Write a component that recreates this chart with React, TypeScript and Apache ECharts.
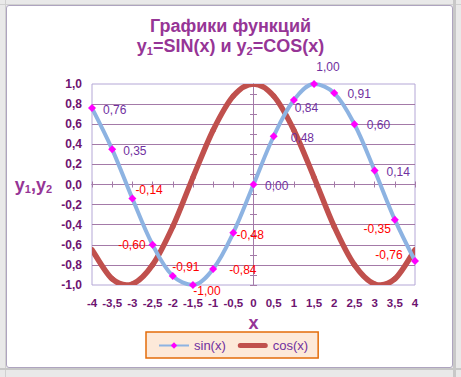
import React, { useEffect, useRef } from "react";
import * as echarts from "echarts";

// ---- data ----
const xValues = [-4, -3.5, -3, -2.5, -2, -1.5, -1, -0.5, 0, 0.5, 1, 1.5, 2, 2.5, 3, 3.5, 4];
const sinValues = [0.76, 0.35, -0.14, -0.6, -0.91, -1.0, -0.84, -0.48, 0.0, 0.48, 0.84, 1.0, 0.91, 0.6, 0.14, -0.35, -0.76];
const cosValues = [-0.65, -0.94, -0.99, -0.8, -0.42, 0.07, 0.54, 0.88, 1.0, 0.88, 0.54, 0.07, -0.42, -0.8, -0.99, -0.94, -0.65];
const seriesNames = ["sin(x)", "cos(x)"];
const titleLine1 = "Графики функций";

// ---- label placement (layout only) ----
const labelSide = ["r", "r", "r", "l", "r", "r", "r", "r", "r", "r", "r", "r", "r", "r", "r", "l", "l"];
const labelDx = [11, 11, 3, 7, -0.6, 0.3, 16, 3.3, 11.5, 17, 0.9, 2.3, 13.2, 12.4, 11.9, 3.9, 12.4];
const labelDy = [2, 2, -8.7, 0, -9.2, 6, 1, 2.4, 1.5, 1.4, 7.7, -17, 1.2, 0.6, 1.4, 9.5, -5.6];

const FONT = "'Liberation Sans', Arial, sans-serif";
const TITLE_COLOR = "#963596";
const TICK_COLOR = "#6e1470";
const GRID_LINE = "#a47aa8";
const BORDER = "#b4a7d6";
const SIN_COLOR = "#8db3e2";
const COS_COLOR = "#c0504d";
const SYM = 8;

const comma = (s: string) => s.replace(".", ",");

export default function App() {
  const ref = useRef<HTMLDivElement>(null);

  useEffect(() => {
    if (!ref.current) return;
    const chart = echarts.init(ref.current, undefined, { renderer: "svg" });

    const sinData = xValues.map((x, i) => {
      const v = sinValues[i];
      const right = labelSide[i] === "r";
      return {
        value: [x, v],
        label: {
          position: right ? "right" : "left",
          distance: 0,
          offset: [right ? labelDx[i] - SYM / 2 : -(labelDx[i] - SYM / 2), labelDy[i]],
          color: v < 0 ? "#ff0000" : "#7030a0",
        },
      };
    });
    const cosData = xValues.map((x, i) => [x, cosValues[i]]);
    const n = xValues.length;
    const idx = (k: number) => Math.max(0, Math.min(n - 1, k));

    // Excel-like (Catmull-Rom) smoothed segment between point i and i+1
    const renderCos = (params: any, api: any) => {
      const i = params.dataIndex;
      if (i >= n - 1) return null;
      const P = (k: number) => api.coord([xValues[idx(k)], cosValues[idx(k)]]);
      const p0 = P(i - 1);
      const p1 = P(i);
      const p2 = P(i + 1);
      const p3 = P(i + 2);
      const t = 1 / 6;
      return {
        type: "bezierCurve",
        shape: {
          x1: p1[0],
          y1: p1[1],
          cpx1: p1[0] + (p2[0] - p0[0]) * t,
          cpy1: p1[1] + (p2[1] - p0[1]) * t,
          cpx2: p2[0] - (p3[0] - p1[0]) * t,
          cpy2: p2[1] - (p3[1] - p1[1]) * t,
          x2: p2[0],
          y2: p2[1],
        },
        style: { stroke: COS_COLOR, lineWidth: 5.5, fill: null, lineCap: "round" },
      };
    };

    const sub = {
      fontSize: 11,
      fontWeight: "bold",
      fontFamily: FONT,
      color: TITLE_COLOR,
      lineHeight: 10,
      verticalAlign: "bottom",
    };

    const zeroAxisX = (inside: boolean) => ({
      type: "value",
      min: -4,
      max: 4,
      interval: 0.5,
      axisLine: { show: true, onZero: true, lineStyle: { color: GRID_LINE, width: 1 } },
      axisTick: { show: true, inside, length: 3, lineStyle: { color: GRID_LINE, width: 1 } },
      axisLabel: { show: false },
      splitLine: { show: false },
    });
    const zeroAxisY = (inside: boolean) => ({
      type: "value",
      min: -1,
      max: 1,
      interval: 0.1,
      axisLine: { show: true, onZero: true, lineStyle: { color: GRID_LINE, width: 1 } },
      axisTick: { show: true, inside, length: 3.5, lineStyle: { color: GRID_LINE, width: 1 } },
      axisLabel: { show: false },
      splitLine: { show: false },
    });

    chart.setOption({
      animation: false,
      backgroundColor: "transparent",
      title: {
        text: `{a|${titleLine1}}\n{a|y}{s|1}{a|=SIN(x) и y}{s|2}{a|=COS(x)}`,
        left: "center",
        top: 16,
        padding: [0, 7, 0, 0],
        textStyle: {
          rich: {
            a: { fontSize: 18, fontWeight: "bold", fontFamily: FONT, color: TITLE_COLOR, lineHeight: 20 },
            s: sub,
          },
        },
      },
      grid: {
        left: 92,
        right: 46,
        top: 84,
        bottom: 92,
        show: true,
        borderColor: BORDER,
        borderWidth: 1,
        backgroundColor: "transparent",
      },
      legend: {
        data: [
          { name: seriesNames[0] },
          {
            name: seriesNames[1],
            icon: "path://M2.75,0H30.25A2.75,2.75 0 0 1 30.25,5.5H2.75A2.75,2.75 0 0 1 2.75,0Z",
            itemStyle: { color: COS_COLOR },
          },
        ],
        left: 146,
        top: 332,
        orient: "horizontal",
        backgroundColor: "#fde9d9",
        borderColor: "#e46c0a",
        borderWidth: 1.5,
        borderRadius: 0,
        padding: [7, 10, 6, 12],
        itemWidth: 30,
        itemHeight: 8,
        itemGap: 12,
        textStyle: { color: "#7030a0", fontSize: 13, fontFamily: FONT },
      },
      xAxis: [
        {
          type: "value",
          min: -4,
          max: 4,
          interval: 0.5,
          name: "x",
          nameLocation: "middle",
          nameGap: 25,
          nameTextStyle: { fontSize: 18, fontWeight: "bold", color: TITLE_COLOR, fontFamily: FONT },
          axisLine: { show: false, onZero: false },
          axisTick: { show: false },
          splitLine: { show: false },
          axisLabel: {
            color: TICK_COLOR,
            fontWeight: "bold",
            fontSize: 11.5,
            fontFamily: FONT,
            margin: 12,
            formatter: (v: number) => comma(String(v)),
          },
        },
        zeroAxisX(false),
        zeroAxisX(true),
      ],
      yAxis: [
        {
          type: "value",
          min: -1,
          max: 1,
          interval: 0.2,
          name: "{a|y}{s|1}{a|,y}{s|2}",
          nameLocation: "middle",
          nameRotate: 0,
          nameGap: 40,
          nameTextStyle: {
            rich: {
              a: { fontSize: 18, fontWeight: "bold", fontFamily: FONT, color: TITLE_COLOR, lineHeight: 20 },
              s: sub,
            },
          },
          axisLine: { show: false, onZero: false },
          axisTick: { show: false },
          splitLine: {
            show: true,
            showMinLine: false,
            showMaxLine: false,
            lineStyle: { color: GRID_LINE, width: 1 },
          },
          axisLabel: {
            color: TICK_COLOR,
            fontWeight: "bold",
            fontSize: 12,
            fontFamily: FONT,
            margin: 10,
            formatter: (v: number) => comma(v.toFixed(1)),
          },
        },
        zeroAxisY(false),
        zeroAxisY(true),
      ],
      series: [
        {
          name: seriesNames[0],
          type: "line",
          xAxisIndex: 0,
          yAxisIndex: 0,
          data: sinData,
          smooth: 0.35,
          symbol: "diamond",
          symbolSize: SYM,
          itemStyle: { color: "#ff00ff" },
          lineStyle: { color: SIN_COLOR, width: 4 },
          label: {
            show: true,
            fontSize: 12,
            fontFamily: FONT,
            formatter: (p: any) => comma(Number(p.value[1]).toFixed(2)),
          },
          z: 3,
        },
        {
          name: seriesNames[1],
          type: "custom",
          xAxisIndex: 0,
          yAxisIndex: 0,
          data: cosData,
          encode: { x: 0, y: 1 },
          clip: true,
          itemStyle: { color: COS_COLOR },
          renderItem: renderCos,
          z: 2,
        },
      ],
    });

    return () => chart.dispose();
  }, []);

  return (
    <div
      style={{
        position: "fixed",
        left: 0,
        top: 0,
        width: 461,
        height: 377,
        background: "#e9e9e9",
        overflow: "hidden",
      }}
    >
      <div style={{ position: "absolute", left: 0, top: 4, width: 461, height: 1, background: "#d0d0d0" }} />
      <div style={{ position: "absolute", left: 5, top: 0, width: 1, height: 377, background: "#d0d0d0" }} />
      <div style={{ position: "absolute", left: 453, top: 0, width: 3, height: 377, background: "#c8c8c8" }} />
      <div style={{ position: "absolute", left: 0, top: 368, width: 461, height: 2, background: "#c8c8c8" }} />
      <div
        style={{
          position: "absolute",
          left: 6,
          top: 5,
          width: 445,
          height: 361,
          background: "#ffffff",
          border: "1px solid #aea4bf",
          borderRadius: 3,
        }}
      />
      <div ref={ref} style={{ position: "absolute", left: 0, top: 0, width: 461, height: 377 }} />
    </div>
  );
}
